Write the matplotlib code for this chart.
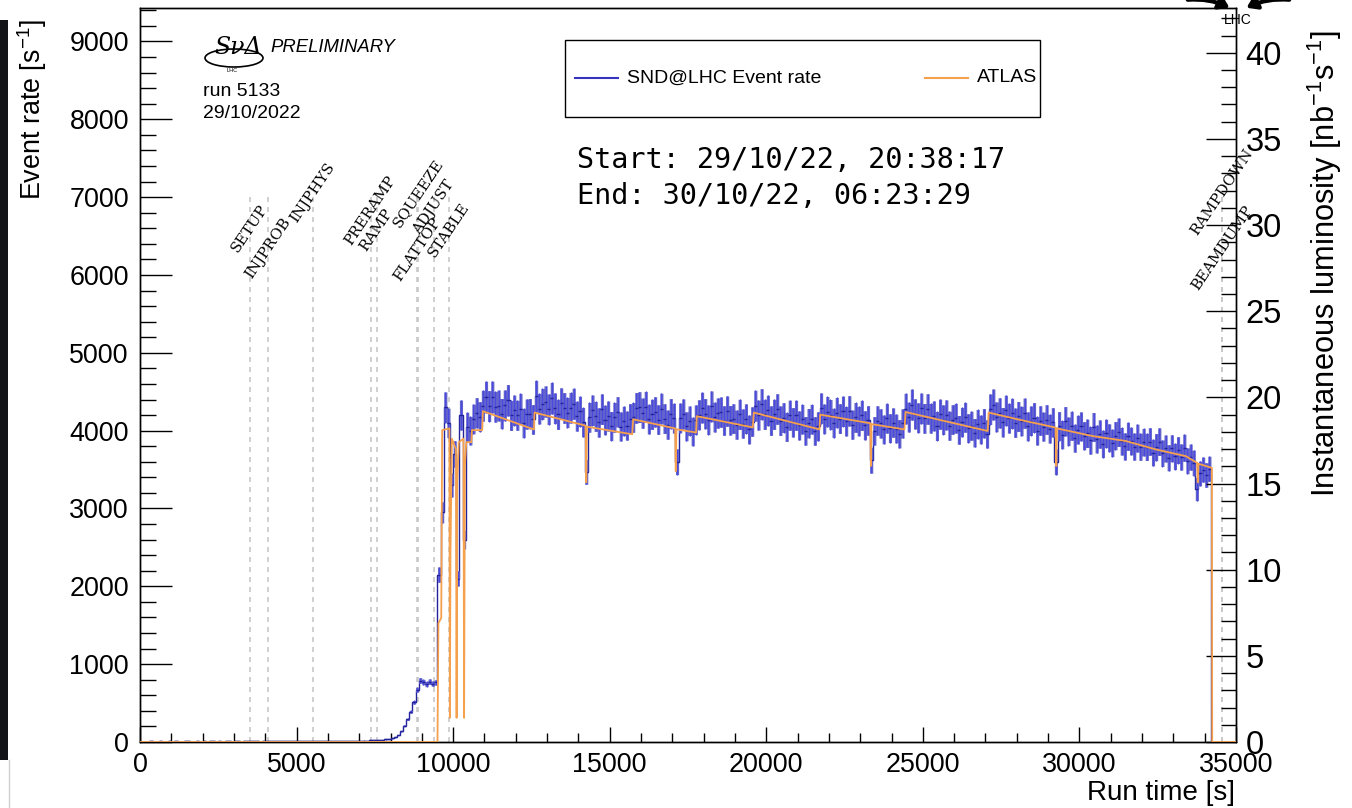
import numpy as np
import matplotlib.pyplot as plt
from matplotlib.patches import Rectangle, Ellipse, FancyArrowPatch
from matplotlib.lines import Line2D
from matplotlib.ticker import MultipleLocator

plt.rcParams['font.family'] = ['Liberation Sans', 'DejaVu Sans']
plt.rcParams['mathtext.fontset'] = 'custom'
plt.rcParams['mathtext.rm'] = 'Liberation Sans'
plt.rcParams['mathtext.it'] = 'Liberation Sans:italic'

# SND@LHC event rate, 100 s bins starting at t = 0 [s^-1]
bin_width = 100
rel_err = 0.046
rate = [
    4, 6, 5, 7, 5, 6, 8, 6, 5, 7,
    6, 7, 5, 6, 8, 7, 6, 5, 7, 6,
    7, 6, 8, 7, 6, 7, 5, 8, 7, 6,
    8, 7, 6, 8, 7, 9, 8, 7, 6, 8,
    7, 8, 9, 7, 8, 10, 8, 9, 7, 8,
    9, 8, 10, 9, 11, 9, 10, 12, 10, 11,
    12, 11, 13, 12, 14, 13, 15, 14, 16, 15,
    17, 19, 18, 21, 23, 25, 27, 30, 33, 37,
    45, 60, 90, 140, 210, 290, 390, 510, 670, 790,
    770, 745, 775, 750, 765, 2150, 2950, 4300, 4100, 3300,
    3700, 2100, 4200, 2600, 4050, 4000, 4150, 4230, 4180, 4320,
    4431, 4316, 4432, 4307, 4323, 4219, 4324, 4390, 4195, 4261,
    4197, 4282, 4098, 4213, 4219, 4144, 4441, 4282, 4343, 4374,
    4275, 4417, 4288, 4209, 4350, 4291, 4233, 4294, 4345, 4186,
    4247, 4109, 3470, 4171, 4262, 4183, 4105, 4276, 4137, 4188,
    4059, 4171, 4242, 4053, 4124, 4065, 4156, 4170, 4292, 4303,
    4225, 4306, 4148, 4209, 4241, 4142, 4284, 4155, 4077, 4218,
    4160, 3600, 4163, 4214, 4056, 4127, 3989, 4140, 4204, 4296,
    4218, 4140, 4312, 4174, 4226, 4238, 4130, 4251, 4133, 4155,
    4077, 4209, 4091, 4153, 4015, 4117, 4320, 4200, 4340, 4209,
    4259, 4129, 4209, 4278, 4128, 4168, 4048, 4198, 4107, 4197,
    4067, 4147, 3997, 4096, 4146, 3996, 4056, 4288, 4151, 4244,
    4207, 4099, 4232, 4155, 4248, 4121, 4254, 4077, 4170, 4123,
    4196, 4069, 4131, 3620, 3997, 4130, 4093, 4016, 4159, 4032,
    4104, 4027, 3960, 4093, 4283, 4174, 4334, 4215, 4166, 4286,
    4157, 4278, 4159, 4189, 4060, 4211, 4141, 4202, 4063, 4143,
    4159, 4010, 4110, 4171, 4032, 4063, 3973, 4084, 4015, 4095,
    3958, 4275, 4336, 4177, 4228, 4108, 4259, 4160, 4221, 4102,
    4182, 4123, 4224, 4055, 4127, 4168, 3999, 4130, 4052, 4143,
    4025, 4106, 3600, 4058, 3949, 4120, 3991, 4062, 3903, 4013,
    4054, 3935, 3966, 3876, 4047, 3892, 3956, 3830, 3964, 3908,
    3842, 3936, 3980, 3864, 3797, 3927, 3866, 3795, 3904, 3793,
    3852, 3791, 3860, 3719, 3788, 3859, 3710, 3771, 3652, 3773,
    3669, 3750, 3661, 3780, 3613, 3660, 3585, 3250, 3450, 3500,
    3430, 3510, 0, 0, 0, 0, 0, 0, 0, 0,
]

# ATLAS instantaneous luminosity [nb^-1 s^-1]
atlas_time = [0, 9500, 9530, 9620, 9650, 9880, 9895, 9915, 9960, 10090, 10110,
              10130, 10180, 10330, 10350, 10375, 10420, 10580, 10600, 10930,
              10950, 12580, 12600, 14230, 14250, 14270, 15720, 15750, 17090,
              17110, 17130, 17760, 17780, 19570, 19600, 21700, 21720, 23320,
              23340, 23360, 24410, 24450, 27070, 27100, 28020, 29240, 29260,
              29280, 30410, 31480, 32440, 33400, 33760, 33780, 33800, 34230,
              34240, 35000]
atlas_lumi = [0, 0, 6.9, 7.2, 18.1, 18.2, 1.4, 11.0, 17.6, 17.0, 1.4,
              15.0, 17.4, 17.6, 1.4, 16.0, 17.4, 17.4, 18.1, 18.1,
              19.2, 18.14, 19.12, 18.36, 15.07, 18.3, 17.86, 18.73, 18.2,
              15.72, 18.15, 17.96, 18.91, 18.26, 19.12, 18.14, 19.0, 18.5,
              16.02, 18.45, 18.14, 19.15, 18.05, 19.12, 18.73, 18.25, 16.02,
              18.2, 17.76, 17.47, 16.98, 16.59, 16.2, 15.07, 16.15, 15.91,
              0, 0]

# LHC machine modes
phase_names = ['SETUP', 'INJPROB', 'INJPHYS', 'PRERAMP', 'RAMP', 'FLATTOP',
               'SQUEEZE', 'ADJUST', 'STABLE', 'RAMPDOWN', 'BEAMDUMP']
phase_time = [3510, 4094, 5511, 7361, 7553, 8848, 8880, 9381, 9869, 34556, 34560]
phase_label_y = [6594, 6350, 7057, 6825, 6581, 6324, 7057, 6864, 6581, 7069, 6350]

W, H = 1352, 808


def fx(px):
    return px / W


def fy(py):
    return 1 - py / H


blue_fill = '#6464cc'
blue_bar = '#4a4ae0'
blue_dark = '#22229a'
orange = '#f5a04c'

fig = plt.figure(figsize=(W / 100, H / 100), dpi=100)
ax = fig.add_axes([fx(140), fy(742), (1236 - 140) / W, (742 - 8) / H])

rate = np.array(rate, dtype=float)
edges = np.arange(0, bin_width * len(rate) + 1, bin_width)
centers = edges[:-1] + bin_width / 2
err = rel_err * rate

# error band, error bars and bin contents
ax.stairs(rate, edges, color=blue_dark, lw=1.0, zorder=1.8)
ax.fill_between(edges, np.append(rate - err, 0), np.append(rate + err, 0),
                step='post', color=blue_fill, lw=0, zorder=2)
ax.vlines(centers, rate - err, rate + err, color=blue_bar, lw=0.8, zorder=3)
ax.hlines(rate, edges[:-1], edges[1:], color=blue_dark, lw=1.0, zorder=3)

# machine mode markers
ax.vlines(phase_time, 0, 7030, colors='#c8c8c8', linestyles=(0, (3, 3)), lw=1.2, zorder=1)
for name, t, y in zip(phase_names, phase_time, phase_label_y):
    ax.text(t, y, name, rotation=56, rotation_mode='anchor', ha='center', va='center',
            family='DejaVu Serif', fontsize=10.8, zorder=6)

ax.set_xlim(0, 35000)
ax.set_ylim(0, 9430)
ax.xaxis.set_major_locator(MultipleLocator(5000))
ax.xaxis.set_minor_locator(MultipleLocator(1000))
ax.yaxis.set_major_locator(MultipleLocator(1000))
ax.yaxis.set_minor_locator(MultipleLocator(200))
ax.tick_params(axis='y', which='major', direction='in', length=23, width=1, labelsize=19.4, pad=8)
ax.tick_params(axis='y', which='minor', direction='in', length=11.5, width=1)
ax.tick_params(axis='x', which='major', direction='in', length=11, width=1, labelsize=19.4, pad=7)
ax.tick_params(axis='x', which='minor', direction='in', length=6.5, width=1)
for s in ax.spines.values():
    s.set_linewidth(1.0)

# ATLAS luminosity on its own axis
ax2 = ax.twinx()
ax2.plot(atlas_time, atlas_lumi, color=orange, lw=1.3, zorder=4)
ax2.set_ylim(0, 42.6)
ax2.yaxis.set_major_locator(MultipleLocator(5))
ax2.yaxis.set_minor_locator(MultipleLocator(1))
ax2.tick_params(axis='y', which='major', direction='in', length=21.6, width=1, labelsize=23.5, pad=7)
ax2.tick_params(axis='y', which='minor', direction='in', length=10.8, width=1)
for s in ax2.spines.values():
    s.set_linewidth(1.0)

# axis titles
fig.text(fx(32), fy(19), r'Event rate [s$^{-1}$]', rotation=90, ha='center', va='top', fontsize=19.4)
fig.text(fx(1235), fy(793), 'Run time [s]', ha='right', va='center', fontsize=20)
fig.text(fx(1325), fy(30), r'Instantaneous luminosity [nb$^{-1}$s$^{-1}$]', rotation=90,
         ha='center', va='top', fontsize=22.2)

# legend box
fig.patches.append(Rectangle((fx(565), fy(117)), 475 / W, 77 / H, transform=fig.transFigure,
                             facecolor='white', edgecolor='black', lw=1.0, zorder=10))
fig.lines.append(Line2D([fx(575), fx(618)], [fy(78), fy(78)], transform=fig.transFigure,
                        color='#3434c0', lw=1.5, zorder=11))
fig.lines.append(Line2D([fx(925), fx(968)], [fy(78), fy(78)], transform=fig.transFigure,
                        color=orange, lw=1.5, zorder=11))
fig.text(fx(627), fy(78), 'SND@LHC Event rate', ha='left', va='center', fontsize=14, zorder=12)
fig.text(fx(977), fy(78), 'ATLAS', ha='left', va='center', fontsize=14, zorder=12)

# fill start / end
fig.text(fx(577), fy(160), 'Start: 29/10/22, 20:38:17', family='DejaVu Sans Mono',
         fontsize=20.5, ha='left', va='center')
fig.text(fx(577), fy(196), 'End: 30/10/22, 06:23:29', family='DejaVu Sans Mono',
         fontsize=20.5, ha='left', va='center')

# collaboration tag
fig.patches.append(Ellipse((fx(234), fy(58)), 58 / W, 18 / H, transform=fig.transFigure,
                           fill=False, edgecolor='black', lw=1.2))
fig.text(fx(238), fy(47), 'S\u03bd\u0394', family='DejaVu Serif', style='italic',
         fontsize=17, ha='center', va='center')
fig.text(fx(232), fy(70), 'LHC', fontsize=4, ha='center', va='center')
fig.text(fx(270), fy(47), 'PRELIMINARY', style='italic', fontsize=13.3, ha='left', va='center')
fig.text(fx(203), fy(92), 'run 5133', fontsize=14, ha='left', va='center')
fig.text(fx(203), fy(113), '29/10/2022', fontsize=14, ha='left', va='center')

# small LHC tag in the top right corner with its arrows
fig.text(fx(1238), fy(20), 'LHC', fontsize=10, ha='center', va='center')
for x0, x1, rad in [(1185, 1232, -0.15), (1292, 1244, 0.15)]:
    fig.patches.append(FancyArrowPatch((fx(x0), fy(0)), (fx(x1), fy(9)), transform=fig.transFigure,
                                       arrowstyle='-|>,head_length=6,head_width=4',
                                       connectionstyle=f'arc3,rad={rad}',
                                       color='black', lw=3.0))

# dark strip along the left edge
fig.patches.append(Rectangle((0, fy(760)), 8 / W, 740 / H, transform=fig.transFigure,
                             facecolor='#121418', edgecolor='none'))
fig.lines.append(Line2D([fx(8.5), fx(8.5)], [fy(760), 0], transform=fig.transFigure,
                        color='#d0d0d0', lw=1.0))

fig.savefig('out.png', dpi=100)
